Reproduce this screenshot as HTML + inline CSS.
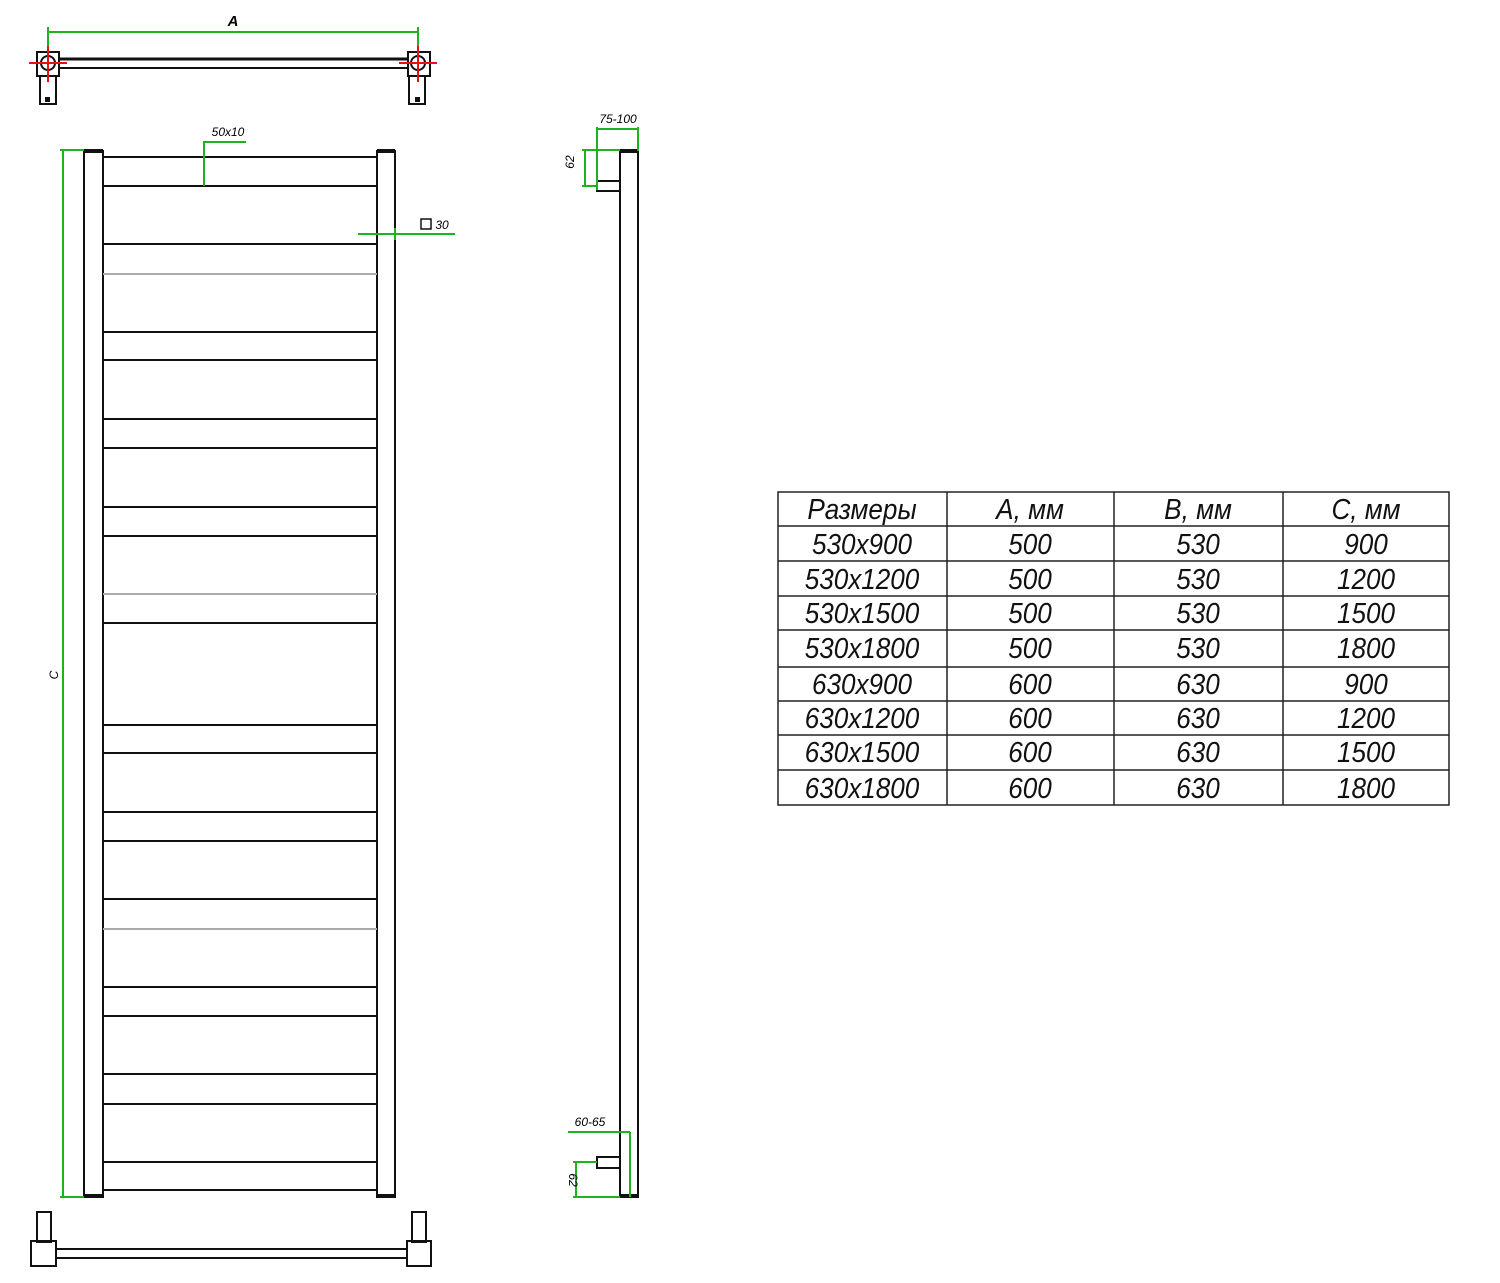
<!DOCTYPE html>
<html><head><meta charset="utf-8"><style>body{margin:0;background:#fff}svg{display:block}</style></head><body>
<svg width="1500" height="1283" viewBox="0 0 1500 1283" xmlns="http://www.w3.org/2000/svg" font-family="Liberation Sans, sans-serif">
<g stroke="#1db31d" stroke-width="2" fill="none">
<line x1="48" y1="32" x2="418" y2="32"/><line x1="48" y1="27" x2="48" y2="62"/><line x1="418" y1="27" x2="418" y2="62"/>
</g>
<text x="233" y="26" font-size="15" font-weight="bold" font-style="italic" text-anchor="middle">A</text>
<g stroke="#111" fill="none" stroke-width="2">
<line x1="58" y1="59" x2="408" y2="59" stroke-width="3"/><line x1="58" y1="68" x2="408" y2="68"/>
<rect x="37" y="52" width="22" height="24"/><rect x="408" y="52" width="22" height="24"/>
<circle cx="48" cy="63" r="7"/><circle cx="418" cy="63" r="7"/>
<rect x="40" y="76" width="16" height="28"/><rect x="409" y="76" width="16" height="28"/>
</g>
<rect x="45" y="97" width="5" height="5" fill="#111"/><rect x="415" y="97" width="5" height="5" fill="#111"/>
<g stroke="#e81010" stroke-width="2">
<line x1="29" y1="63" x2="67" y2="63"/><line x1="48" y1="46" x2="48" y2="82"/>
<line x1="399" y1="63" x2="437" y2="63"/><line x1="418" y1="46" x2="418" y2="82"/>
</g>
<g stroke="#111" fill="none" stroke-width="2">
<rect x="84" y="151" width="19" height="1046"/><rect x="377" y="151" width="18" height="1046"/>
<line x1="84" y1="151" x2="103" y2="151" stroke-width="4"/><line x1="377" y1="151" x2="395" y2="151" stroke-width="4"/>
<line x1="84" y1="1196" x2="103" y2="1196" stroke-width="4"/><line x1="377" y1="1196" x2="395" y2="1196" stroke-width="4"/>
<path d="M103 157H377M103 186H377M103 244H377M103 332H377M103 360H377M103 419H377M103 448H377M103 507H377M103 536H377M103 623H377M103 725H377M103 753H377M103 812H377M103 841H377M103 899H377M103 987H377M103 1016H377M103 1074H377M103 1104H377M103 1162H377M103 1190H377"/>
</g>
<g stroke="#aaa" stroke-width="2"><path d="M103 274H377M103 594H377M103 929H377"/></g>
<g stroke="#1db31d" stroke-width="2" fill="none">
<line x1="63" y1="150" x2="63" y2="1197"/><line x1="60" y1="150" x2="84" y2="150"/><line x1="60" y1="1197" x2="84" y2="1197"/>
<polyline points="204,186 204,142 246,142"/>
<polyline points="358,234 455,234"/><line x1="395" y1="228" x2="395" y2="240"/>
</g>
<text x="228" y="136" font-size="12" font-style="italic" text-anchor="middle">50x10</text>
<rect x="421" y="219" width="10" height="10" fill="none" stroke="#111" stroke-width="1.5"/>
<text x="442" y="229" font-size="12" font-style="italic" text-anchor="middle">30</text>
<text x="58" y="675" font-size="12" font-style="italic" text-anchor="middle" transform="rotate(-90 58 675)">C</text>
<g stroke="#111" fill="none" stroke-width="2">
<rect x="37" y="1212" width="14" height="30"/><rect x="412" y="1212" width="14" height="30"/>
<rect x="31" y="1241" width="25" height="25"/><rect x="407" y="1241" width="24" height="25"/>
<line x1="56" y1="1249" x2="407" y2="1249"/><line x1="56" y1="1258" x2="407" y2="1258"/>
</g>
<g stroke="#111" fill="none" stroke-width="2">
<rect x="620" y="151" width="18" height="1046"/>
<line x1="620" y1="151" x2="638" y2="151" stroke-width="4"/><line x1="620" y1="1196" x2="638" y2="1196" stroke-width="4"/>
<polyline points="620,181 597,181 597,191 620,191"/>
<rect x="597" y="1157" width="23" height="11"/>
</g>
<g stroke="#1db31d" stroke-width="2" fill="none">
<line x1="597" y1="129" x2="638" y2="129"/><line x1="597" y1="127" x2="597" y2="190"/><line x1="638" y1="127" x2="638" y2="151"/>
<line x1="582" y1="150" x2="620" y2="150"/><line x1="582" y1="186" x2="597" y2="186"/><line x1="585" y1="150" x2="585" y2="186"/>
<line x1="568" y1="1132" x2="630" y2="1132"/><line x1="630" y1="1132" x2="630" y2="1197"/>
<line x1="573" y1="1162" x2="597" y2="1162"/><line x1="573" y1="1197" x2="620" y2="1197"/><line x1="576" y1="1162" x2="576" y2="1197"/>
</g>
<text x="618" y="123" font-size="12" font-style="italic" text-anchor="middle">75-100</text>
<text x="578" y="166" font-size="12" font-style="italic" text-anchor="middle" transform="rotate(-90 574 166)">62</text>
<text x="590" y="1126" font-size="12" font-style="italic" text-anchor="middle">60-65</text>
<text x="569" y="1180" font-size="12" font-style="italic" text-anchor="middle" transform="rotate(90 569 1180)">62</text>
<g stroke="#222" stroke-width="1.5" fill="none">
<rect x="778" y="492" width="671" height="313"/>
<path d="M947 492V805M1114 492V805M1283 492V805"/>
<path d="M778 526H1449M778 561H1449M778 596H1449M778 630H1449M778 667H1449M778 701H1449M778 735H1449M778 770H1449"/>
</g>
<g font-size="29" font-style="italic" text-anchor="middle" fill="#111">
<text transform="translate(862,519) scale(0.9,1)">Размеры</text><text transform="translate(1030,519) scale(0.9,1)">A, мм</text><text transform="translate(1198,519) scale(0.9,1)">B, мм</text><text transform="translate(1366,519) scale(0.9,1)">C, мм</text>
<text transform="translate(862,554) scale(0.9,1)">530x900</text><text transform="translate(1030,554) scale(0.9,1)">500</text><text transform="translate(1198,554) scale(0.9,1)">530</text><text transform="translate(1366,554) scale(0.9,1)">900</text>
<text transform="translate(862,589) scale(0.9,1)">530x1200</text><text transform="translate(1030,589) scale(0.9,1)">500</text><text transform="translate(1198,589) scale(0.9,1)">530</text><text transform="translate(1366,589) scale(0.9,1)">1200</text>
<text transform="translate(862,623) scale(0.9,1)">530x1500</text><text transform="translate(1030,623) scale(0.9,1)">500</text><text transform="translate(1198,623) scale(0.9,1)">530</text><text transform="translate(1366,623) scale(0.9,1)">1500</text>
<text transform="translate(862,658) scale(0.9,1)">530x1800</text><text transform="translate(1030,658) scale(0.9,1)">500</text><text transform="translate(1198,658) scale(0.9,1)">530</text><text transform="translate(1366,658) scale(0.9,1)">1800</text>
<text transform="translate(862,694) scale(0.9,1)">630x900</text><text transform="translate(1030,694) scale(0.9,1)">600</text><text transform="translate(1198,694) scale(0.9,1)">630</text><text transform="translate(1366,694) scale(0.9,1)">900</text>
<text transform="translate(862,728) scale(0.9,1)">630x1200</text><text transform="translate(1030,728) scale(0.9,1)">600</text><text transform="translate(1198,728) scale(0.9,1)">630</text><text transform="translate(1366,728) scale(0.9,1)">1200</text>
<text transform="translate(862,762) scale(0.9,1)">630x1500</text><text transform="translate(1030,762) scale(0.9,1)">600</text><text transform="translate(1198,762) scale(0.9,1)">630</text><text transform="translate(1366,762) scale(0.9,1)">1500</text>
<text transform="translate(862,798) scale(0.9,1)">630x1800</text><text transform="translate(1030,798) scale(0.9,1)">600</text><text transform="translate(1198,798) scale(0.9,1)">630</text><text transform="translate(1366,798) scale(0.9,1)">1800</text>
</g>
</svg>
</body></html>
